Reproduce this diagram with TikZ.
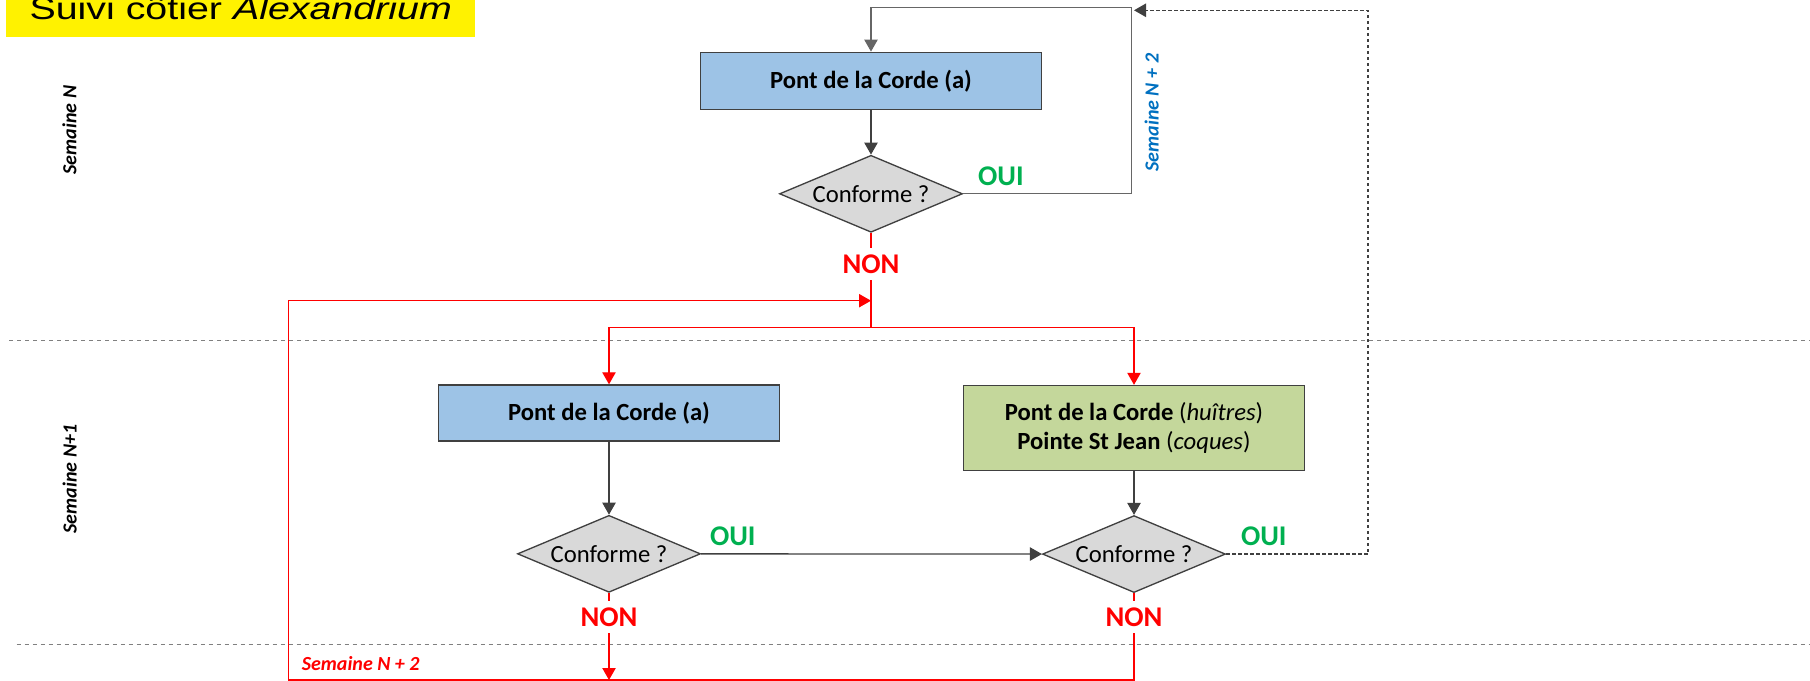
\documentclass[tikz,border=0pt]{standalone}
\usepackage{fontspec}
\setmainfont{Carlito}
\newfontfamily\titlefont[FakeStretch=1.27]{Liberation Sans}
\usepackage{tikz}
\usetikzlibrary{shapes.geometric}
\usetikzlibrary{arrows.meta}
\usetikzlibrary{positioning}

\definecolor{boxblue}{RGB}{157,195,230}
\definecolor{boxgreen}{RGB}{196,215,155}
\definecolor{diagrey}{RGB}{217,217,217}
\definecolor{ouigreen}{RGB}{0,176,80}
\definecolor{weekblue}{RGB}{0,112,192}
\definecolor{edgegrey}{RGB}{64,64,64}

\tikzset{
  site/.style={draw=edgegrey, line width=1pt, minimum width=255.75pt, minimum height=42.75pt, inner sep=0pt, align=center, font=\fontsize{18.5}{22}\selectfont},
  test/.style={diamond, draw=edgegrey, line width=1pt, fill=diagrey, aspect=2.4, minimum width=137.25pt, minimum height=57.75pt, inner sep=0pt, font=\fontsize{18.5}{22}\selectfont},
  oui/.style={text=ouigreen, inner sep=0pt, font=\fontsize{21.4}{24}\selectfont\bfseries},
  non/.style={text=red, inner xsep=1pt, inner ysep=5pt, font=\fontsize{21.4}{24}\selectfont\bfseries},
  week/.style={inner sep=0pt, font=\fontsize{15}{18}\selectfont\bfseries\itshape},
  tip/.style={-{Triangle[width=10pt,length=9pt]}},
  link/.style={draw=black!75, line width=1pt},
  nonlink/.style={draw=red, line width=0.9pt},
  back/.style={draw=black!75, line width=1.1pt, dash pattern=on 2.5pt off 2pt},
  sep/.style={draw=black!50, line width=0.75pt, dash pattern=on 3pt off 3pt}
}

\begin{document}
\begin{tikzpicture}[x=0.75pt, y=-0.75pt]
  \useasboundingbox (0,0) rectangle (1810,681);

  \node (title) [anchor=base, fill=yellow, inner sep=0pt, minimum width=351.5pt, text height=18pt, text depth=12.5pt, font=\titlefont\fontsize{23.25}{28}\selectfont] at (240.7,20) {Suivi côtier \textit{Alexandrium}};

  \draw[sep] (9,340) -- (1810,340);
  \draw[sep] (16.5,644) -- (1810,644);

  \node (wN) [week, rotate=90] at (69.5,130) {Semaine N};
  \node (wN1) [week, rotate=90] at (69.7,479) {Semaine N+1};
  \node (wN2) [week, rotate=90, text=weekblue] at (1151.7,112.7) {Semaine N + 2};
  \node (wN2r) [week, text=red] at (360.7,664) {Semaine N + 2};

  \node (box1) [site, fill=boxblue] at (871,80.8) {\textbf{Pont de la Corde (a)}};
  \node (d1) [test, below=33.5pt of box1] {Conforme ?};
  \node (box2) [site, fill=boxblue, minimum height=42pt] at (609,413) {\textbf{Pont de la Corde (a)}};
  \node (d2) [test, below=54.75pt of box2] {Conforme ?};
  \node (box3) [site, fill=boxgreen, minimum height=63.75pt] at (1134,428) {\textbf{Pont de la Corde} (\textit{huîtres})\\\textbf{Pointe St Jean} (\textit{coques})};
  \node (d3) [test, below=32.8pt of box3] {Conforme ?};

  \node (oui1) [oui] at ([xshift=28.3pt, yshift=13.5pt]d1.east) {OUI};
  \node (oui2) [oui] at ([xshift=23.7pt, yshift=13.5pt]d2.east) {OUI};
  \node (oui3) [oui] at ([xshift=28.2pt, yshift=13.5pt]d3.east) {OUI};
  \node (non1) [non] at (871,264) {NON};
  \node (non2) [non] at (609,617) {NON};
  \node (non3) [non] at (1134,617) {NON};

  \coordinate (loopTR) at (1131.6,7.3);
  \coordinate (backTR) at (1368,10.3);
  \coordinate (backEnd) at (1134,10.3);
  \coordinate (split) at (871,327.7);
  \coordinate (rejoin) at (871,300.7);
  \coordinate (loopBL) at (288.3,680);

  \draw[link, tip] (box1) -- (d1);
  \draw[link, tip] (box2) -- (d2);
  \draw[link, tip] (box3) -- (d3);
  \draw[link, tip] (d2) -- (d3);
  \draw[link, draw=black!60, tip] (d1.east) -| (loopTR) -| (box1.north);
  \draw[back, tip] (d3.east) -| (backTR) -- (backEnd);

  \draw[nonlink] (d1) -- (non1);
  \draw[nonlink] (d2) -- (non2);
  \draw[nonlink] (d3) -- (non3);
  \draw[nonlink] (non1) -- (split);
  \draw[nonlink, tip] (split) -| (box2.north);
  \draw[nonlink, tip] (split) -| (box3.north);
  \draw[nonlink, tip] (non2) -- (non2 |- loopBL);
  \draw[nonlink, tip] (non3) |- (loopBL) |- (rejoin);
\end{tikzpicture}
\end{document}
